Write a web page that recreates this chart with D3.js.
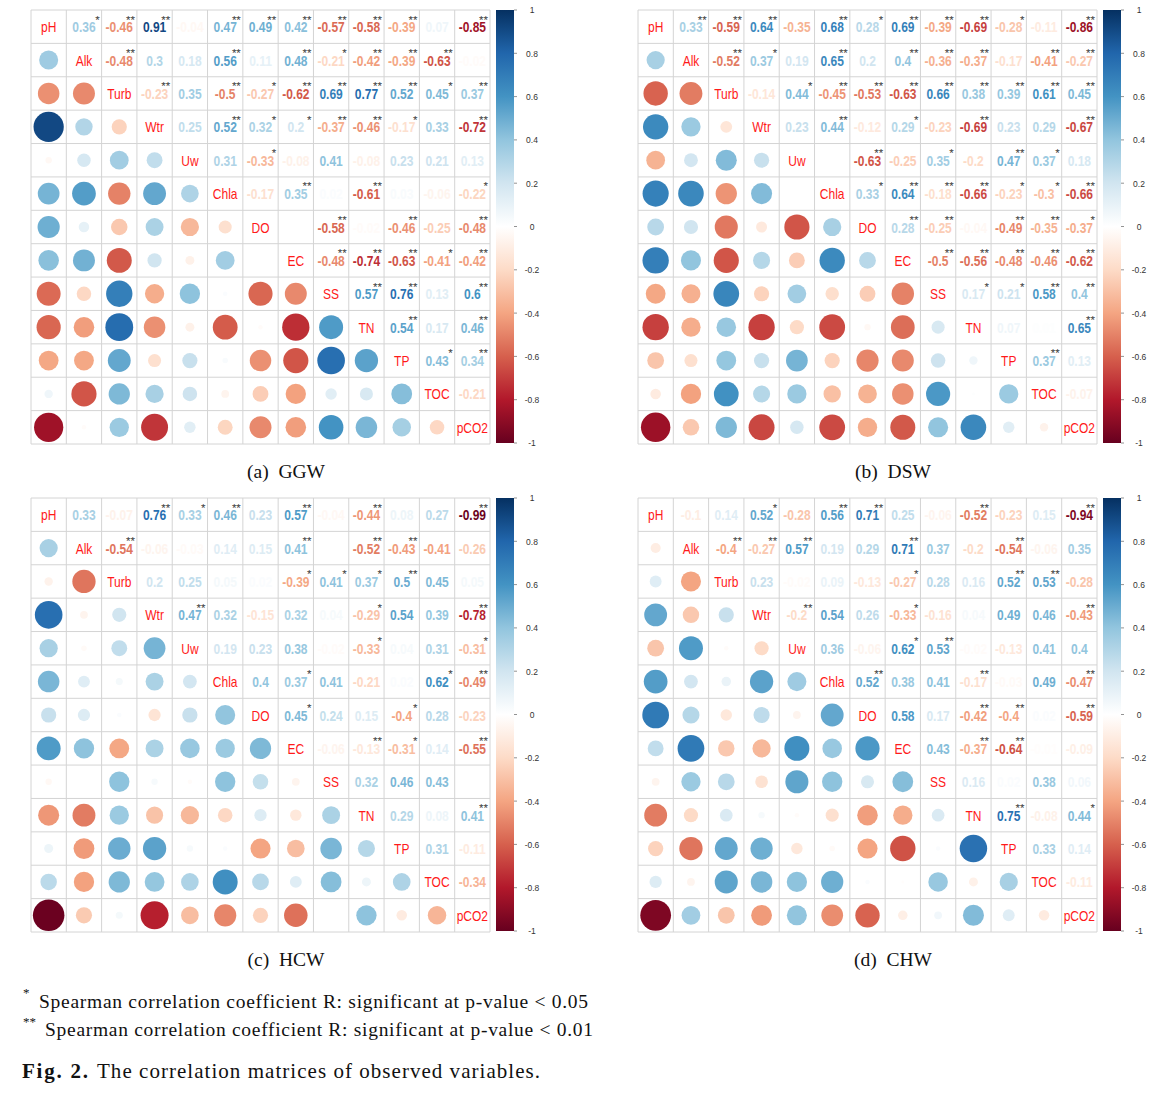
<!DOCTYPE html>
<html><head><meta charset="utf-8">
<script src="https://cdn.jsdelivr.net/npm/d3@7"></script>
<style>body{margin:0;background:#fff} svg{display:block}</style>
</head><body>
<svg id="chart" width="1171" height="1095"></svg>
<script>
const variables = ["pH","Alk","Turb","Wtr","Uw","Chla","DO","EC","SS","TN","TP","TOC","pCO2"];
const legendTicks = [1,0.8,0.6,0.4,0.2,0,-0.2,-0.4,-0.6,-0.8,-1];
const panelNames = ["(a)  GGW","(b)  DSW","(c)  HCW","(d)  CHW"];

// upper-triangle rows (row i lists columns i+1 .. 12)
const ggwR = [
 [0.36,-0.46,0.91,-0.04,0.47,0.49,0.42,-0.57,-0.58,-0.39,0.07,-0.85],
 [-0.48,0.3,0.18,0.56,0.11,0.48,-0.21,-0.42,-0.39,-0.63,-0.02],
 [-0.23,0.35,-0.5,-0.27,-0.62,0.69,0.77,0.52,0.45,0.37],
 [0.25,0.52,0.32,0.2,-0.37,-0.46,-0.17,0.33,-0.72],
 [0.31,-0.33,-0.08,0.41,-0.08,0.23,0.21,0.13],
 [-0.17,0.35,0.02,-0.61,0.03,-0.06,-0.22],
 [0,-0.58,-0.02,-0.46,-0.25,-0.48],
 [-0.48,-0.74,-0.63,-0.41,-0.42],
 [0.57,0.76,0.13,0.6],
 [0.54,0.17,0.46],
 [0.43,0.34],
 [-0.21]];
const ggwSig = [
 [1,2,2,0,2,2,2,2,2,2,0,2],
 [2,0,0,2,0,2,1,2,2,2,0],
 [2,0,2,1,2,2,2,2,1,2],
 [0,2,1,1,2,2,1,0,2],
 [0,1,0,0,0,0,0,0],
 [0,2,0,2,0,0,1],
 [0,2,0,2,0,2],
 [2,2,2,1,2],
 [2,2,0,2],
 [2,0,2],
 [1,2],
 [0]];

const dswR = [
 [0.33,-0.59,0.64,-0.35,0.68,0.28,0.69,-0.39,-0.69,-0.28,-0.11,-0.86],
 [-0.52,0.37,0.19,0.65,0.2,0.4,-0.36,-0.37,-0.17,-0.41,-0.27],
 [-0.14,0.44,-0.45,-0.53,-0.63,0.66,0.38,0.39,0.61,0.45],
 [0.23,0.44,-0.12,0.29,-0.23,-0.69,0.23,0.29,-0.67],
 [0,-0.63,-0.25,0.35,-0.2,0.47,0.37,0.18],
 [0.33,0.64,-0.18,-0.66,-0.23,-0.3,-0.66],
 [0.28,-0.25,-0.04,-0.49,-0.35,-0.37],
 [-0.5,-0.56,-0.48,-0.46,-0.62],
 [0.17,0.21,0.58,0.4],
 [0.07,0.01,0.65],
 [0.37,0.13],
 [-0.07]];
const dswSig = [
 [2,2,2,0,2,1,2,2,2,1,0,2],
 [2,1,0,2,0,2,2,2,0,2,2],
 [0,1,2,2,2,2,2,2,2,2],
 [0,2,0,1,0,2,0,0,2],
 [0,2,0,1,0,2,1,0],
 [1,2,2,2,1,1,2],
 [2,2,0,2,2,1],
 [2,2,2,2,2],
 [1,1,2,2],
 [0,0,2],
 [2,0],
 [0]];

const hcwR = [
 [0.33,-0.07,0.76,0.33,0.46,0.23,0.57,-0.04,-0.44,0.08,0.27,-0.99],
 [-0.54,-0.06,-0.03,0.14,0.15,0.41,0,-0.52,-0.43,-0.41,-0.26],
 [0.2,0.25,0.05,0.02,-0.39,0.41,0.37,0.5,0.45,0.05],
 [0.47,0.32,-0.15,0.32,0.04,-0.29,0.54,0.39,-0.78],
 [0.19,0.23,0.38,-0.02,-0.33,0.04,0.31,-0.31],
 [0.4,0.37,0.41,-0.21,0.02,0.62,-0.49],
 [0.45,0.24,0.15,-0.4,0.28,-0.23],
 [-0.06,-0.13,-0.31,0.14,-0.55],
 [0.32,0.46,0.43,0],
 [0.29,0.08,0.41],
 [0.31,-0.11],
 [-0.34]];
const hcwSig = [
 [0,0,2,1,2,0,2,0,2,0,0,2],
 [2,0,0,0,0,2,0,2,2,0,0],
 [0,0,0,0,1,1,1,2,0,0],
 [2,0,0,0,0,1,0,0,2],
 [0,0,0,0,1,0,0,1],
 [0,1,0,0,0,1,2],
 [1,0,0,1,0,0],
 [0,2,1,0,2],
 [0,0,0,0],
 [0,0,2],
 [0,0],
 [0]];

const chwR = [
 [-0.1,0.14,0.52,-0.28,0.56,0.71,0.25,-0.06,-0.52,-0.23,0.15,-0.94],
 [-0.4,-0.27,0.57,0.19,0.29,0.71,0.37,-0.2,-0.54,-0.06,0.35],
 [0.23,-0.02,0.09,-0.13,-0.27,0.28,0.16,0.52,0.53,-0.28],
 [-0.2,0.54,0.26,-0.33,-0.16,0.04,0.49,0.46,-0.43],
 [0.36,-0.06,0.62,0.53,-0.02,-0.13,0.41,0.4],
 [0.52,0.38,0.41,-0.17,-0.03,0.49,-0.47],
 [0.58,0.17,-0.42,-0.4,0.02,-0.59],
 [0.43,-0.37,-0.64,-0.01,-0.09],
 [0.16,0.02,0.38,0.06],
 [0.75,-0.08,0.44],
 [0.33,0.14],
 [-0.11]];
const chwSig = [
 [0,0,1,0,2,2,0,0,2,0,0,2],
 [2,2,2,0,0,2,0,0,2,0,0],
 [0,0,0,0,1,0,0,2,2,0],
 [2,0,0,1,0,0,0,0,2],
 [0,0,1,2,0,0,0,0],
 [2,0,0,2,0,0,2],
 [0,0,2,2,0,2],
 [0,2,2,0,0],
 [0,0,0,0],
 [2,0,1],
 [0,0],
 [0]];

const palette = ["#67001F","#B2182B","#D6604D","#F4A582","#FDDBC7","#FFFFFF","#D1E5F0","#92C5DE","#4393C3","#2166AC","#053061"];
const color = d3.scaleLinear().domain(d3.range(11).map(i => -1 + i * 0.2)).range(palette).clamp(true);

const svg = d3.select("#chart");
const defs = svg.append("defs");
const grad = defs.append("linearGradient").attr("id","cbar").attr("x1",0).attr("x2",0).attr("y1",0).attr("y2",1);
palette.slice().reverse().forEach((c,i) => grad.append("stop").attr("offset", (i/10*100)+"%").attr("stop-color", c));

const panels = [
  {R: ggwR, S: ggwSig, x0: 31, y0: 10},
  {R: dswR, S: dswSig, x0: 638, y0: 10},
  {R: hcwR, S: hcwSig, x0: 31, y0: 498},
  {R: chwR, S: chwSig, x0: 638, y0: 498}
];
const PW = 459, PH = 434, n = variables.length;
const SY = 1.28;

panels.forEach((p, pi) => {
  const g = svg.append("g");
  const x = d3.scaleBand().domain(d3.range(n)).range([p.x0, p.x0 + PW]);
  const y = d3.scaleBand().domain(d3.range(n)).range([p.y0, p.y0 + PH]);
  const bw = x.bandwidth(), bh = y.bandwidth();
  const val = (i, j) => i < j ? p.R[i][j - i - 1] : p.R[j][i - j - 1];
  const sig = (i, j) => p.S[i][j - i - 1];
  const cells = [];
  for (let i = 0; i < n; i++) for (let j = 0; j < n; j++) cells.push({i, j});

  // grid
  g.selectAll("line.v").data(d3.range(n + 1)).join("line")
    .attr("x1", k => p.x0 + k * bw).attr("x2", k => p.x0 + k * bw)
    .attr("y1", p.y0).attr("y2", p.y0 + PH)
    .attr("stroke", "#d4d4d4").attr("stroke-width", 1);
  g.selectAll("line.h").data(d3.range(n + 1)).join("line")
    .attr("y1", k => p.y0 + k * bh).attr("y2", k => p.y0 + k * bh)
    .attr("x1", p.x0).attr("x2", p.x0 + PW)
    .attr("stroke", "#d4d4d4").attr("stroke-width", 1);

  // lower triangle circles
  const rmax = 0.475 * Math.min(bw, bh);
  g.selectAll("circle").data(cells.filter(c => c.i > c.j)).join("circle")
    .attr("cx", c => x(c.j) + bw / 2).attr("cy", c => y(c.i) + bh / 2)
    .attr("r", c => Math.sqrt(Math.abs(val(c.i, c.j))) * rmax)
    .attr("fill", c => color(val(c.i, c.j)));

  // diagonal labels
  g.selectAll("text.diag").data(d3.range(n)).join("text")
    .attr("transform", k => `translate(${x(k) + bw / 2},${y(k) + bh / 2}) scale(1,${SY})`)
    .attr("text-anchor", "middle").attr("dy", "0.36em")
    .attr("font-family", "Liberation Sans, Arial, sans-serif").attr("font-size", 12)
    .attr("fill", "#ff1a1a").text(k => variables[k]);

  // upper triangle numbers
  const up = cells.filter(c => c.i < c.j);
  g.selectAll("text.num").data(up).join("text")
    .attr("transform", c => `translate(${x(c.j) + bw / 2},${y(c.i) + bh / 2}) scale(1,${SY})`)
    .attr("text-anchor", "middle").attr("dy", "0.36em")
    .attr("font-family", "Liberation Sans, Arial, sans-serif").attr("font-size", 12)
    .attr("font-weight", "bold")
    .attr("fill", c => color(val(c.i, c.j)))
    .text(c => String(val(c.i, c.j)));

  // significance stars
  g.selectAll("text.star").data(up.filter(c => sig(c.i, c.j) > 0)).join("text")
    .attr("x", c => x(c.j) + bw - 2).attr("y", c => y(c.i) + 13.5)
    .attr("text-anchor", "end")
    .attr("font-family", "Liberation Sans, Arial, sans-serif").attr("font-size", 11.5)
    .attr("fill", "#3a3a3a").text(c => "*".repeat(sig(c.i, c.j)));

  // color legend
  const lx = p.x0 + PW + 6, lw = 18;
  const ly = d3.scaleLinear().domain([1, -1]).range([p.y0, p.y0 + PH - 1]);
  g.append("rect").attr("x", lx).attr("y", p.y0).attr("width", lw).attr("height", PH - 1)
    .attr("fill", "url(#cbar)");
  g.selectAll("line.tk").data(legendTicks).join("line")
    .attr("x1", lx + lw).attr("x2", lx + lw + 3)
    .attr("y1", d => ly(d)).attr("y2", d => ly(d))
    .attr("stroke", "#777").attr("stroke-width", 0.8);
  g.selectAll("text.tk").data(legendTicks).join("text")
    .attr("transform", d => `translate(${lx + lw + 18},${ly(d)}) scale(1,1.15)`)
    .attr("text-anchor", "middle").attr("dy", "0.35em")
    .attr("font-family", "Liberation Sans, Arial, sans-serif").attr("font-size", 8.5)
    .attr("fill", "#333").text(d => String(d));

  // caption
  svg.append("text")
    .attr("x", p.x0 + 255).attr("y", p.y0 + 468)
    .attr("text-anchor", "middle")
    .attr("font-family", "Liberation Serif, Times New Roman, serif").attr("font-size", 19.5)
    .attr("fill", "#111").attr("xml:space", "preserve")
    .style("white-space", "pre")
    .text(panelNames[pi]);
});

// footnotes
const serif = "Liberation Serif, Times New Roman, serif";
svg.append("text").attr("x", 23).attr("y", 997).attr("font-family", serif).attr("font-size", 13).attr("fill", "#111").text("*");
svg.append("text").attr("x", 39).attr("y", 1008).attr("font-family", serif).attr("font-size", 19.5).attr("fill", "#111")
  .attr("textLength", 549).attr("lengthAdjust", "spacing")
  .text("Spearman correlation coefficient R: significant at p-value < 0.05");
svg.append("text").attr("x", 23).attr("y", 1026).attr("font-family", serif).attr("font-size", 13).attr("fill", "#111").text("**");
svg.append("text").attr("x", 45).attr("y", 1036).attr("font-family", serif).attr("font-size", 19.5).attr("fill", "#111")
  .attr("textLength", 548).attr("lengthAdjust", "spacing")
  .text("Spearman correlation coefficient R: significant at p-value < 0.01");
svg.append("text").attr("x", 22).attr("y", 1078).attr("font-family", serif).attr("font-size", 21).attr("font-weight", "bold").attr("fill", "#111")
  .attr("textLength", 66).attr("lengthAdjust", "spacing").text("Fig. 2.");
svg.append("text").attr("x", 97).attr("y", 1078).attr("font-family", serif).attr("font-size", 21).attr("fill", "#111")
  .attr("textLength", 443).attr("lengthAdjust", "spacing")
  .text("The correlation matrices of observed variables.");
</script>
</body></html>
